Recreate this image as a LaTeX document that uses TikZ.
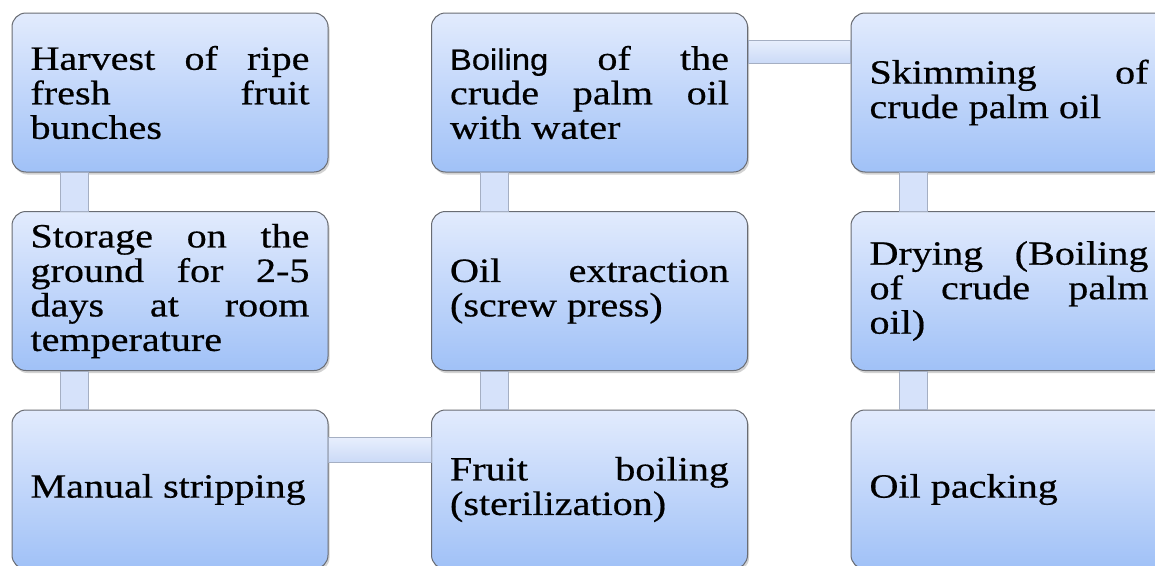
\documentclass[tikz,border=0pt]{standalone}
\usepackage{fontspec}
\setmainfont{Liberation Serif}[FakeStretch=1.18,FakeBold=0.5]
\newfontfamily\sansb{Liberation Sans}[FakeStretch=1.11,FakeBold=0.5]
\usetikzlibrary{shadows}
\definecolor{boxtop}{RGB}{226,235,253}
\definecolor{boxbot}{RGB}{160,193,247}
\definecolor{boxline}{RGB}{105,108,115}
\definecolor{connA}{RGB}{232,239,253}
\definecolor{connB}{RGB}{203,218,247}
\definecolor{connfill}{RGB}{214,226,250}
\definecolor{connline}{RGB}{165,175,195}
\tikzset{
 stepbox/.style={draw=boxline, line width=1pt, rounded corners=14pt, top color=boxtop, bottom color=boxbot, minimum width=316pt, minimum height=159pt, inner sep=0pt, drop shadow={shadow xshift=1.5pt, shadow yshift=-2.5pt, opacity=0.35}},
 hconn/.style={draw=connline, line width=0.7pt, top color=connA, bottom color=connB},
 vconn/.style={draw=connline, line width=0.7pt, fill=connfill},
}
\newcommand{\jl}[1]{\makebox[279pt][s]{#1}}
\newcommand{\bt}[1]{\parbox{279pt}{\fontsize{34pt}{34.5pt}\selectfont\raggedright #1}}
\newcommand{\sanw}[1]{{\sansb\fontsize{29.5pt}{34.5pt}\selectfont #1}}
\begin{document}
\begin{tikzpicture}[x=1pt,y=-1pt]
\useasboundingbox[fill=white] (0,0) rectangle (1155,565);
\node[stepbox] (h1) at (170,92.5) {\bt{\jl{Harvest of ripe}\\\jl{fresh fruit}\\bunches}};
\node[stepbox] (s1) at (170,291) {\bt{\jl{Storage on the}\\\jl{ground for 2-5}\\\jl{days at room}\\temperature}};
\node[stepbox] (m1) at (170,489.5) {\bt{Manual stripping}};
\node[stepbox] (b2) at (589.5,92.5) {\bt{\jl{\sanw{Boiling} of the}\\\jl{crude palm oil}\\with water}};
\node[stepbox] (o2) at (589.5,291) {\bt{\jl{Oil extraction}\\(screw press)}};
\node[stepbox] (f2) at (589.5,489.5) {\bt{\jl{Fruit boiling}\\(sterilization)}};
\node[stepbox] (k3) at (1009,92.5) {\bt{\jl{Skimming of}\\crude palm oil}};
\node[stepbox] (d3) at (1009,291) {\bt{\jl{Drying (Boiling}\\\jl{of crude palm}\\oil)}};
\node[stepbox] (p3) at (1009,489.5) {\bt{Oil packing}};
\path[vconn] ([xshift=-110pt]h1.south) rectangle ([xshift=-82pt]s1.north);
\path[vconn] ([xshift=-110pt]s1.south) rectangle ([xshift=-82pt]m1.north);
\path[vconn] ([xshift=-109.5pt]b2.south) rectangle ([xshift=-81.5pt]o2.north);
\path[vconn] ([xshift=-109.5pt]o2.south) rectangle ([xshift=-81.5pt]f2.north);
\path[vconn] ([xshift=-110pt]k3.south) rectangle ([xshift=-82pt]d3.north);
\path[vconn] ([xshift=-110pt]d3.south) rectangle ([xshift=-82pt]p3.north);
\path[hconn] ([yshift=52.5pt]m1.east) rectangle ([yshift=27.5pt]f2.west);
\path[hconn] ([yshift=52.5pt]b2.east) rectangle ([yshift=29.5pt]k3.west);
\end{tikzpicture}
\end{document}
